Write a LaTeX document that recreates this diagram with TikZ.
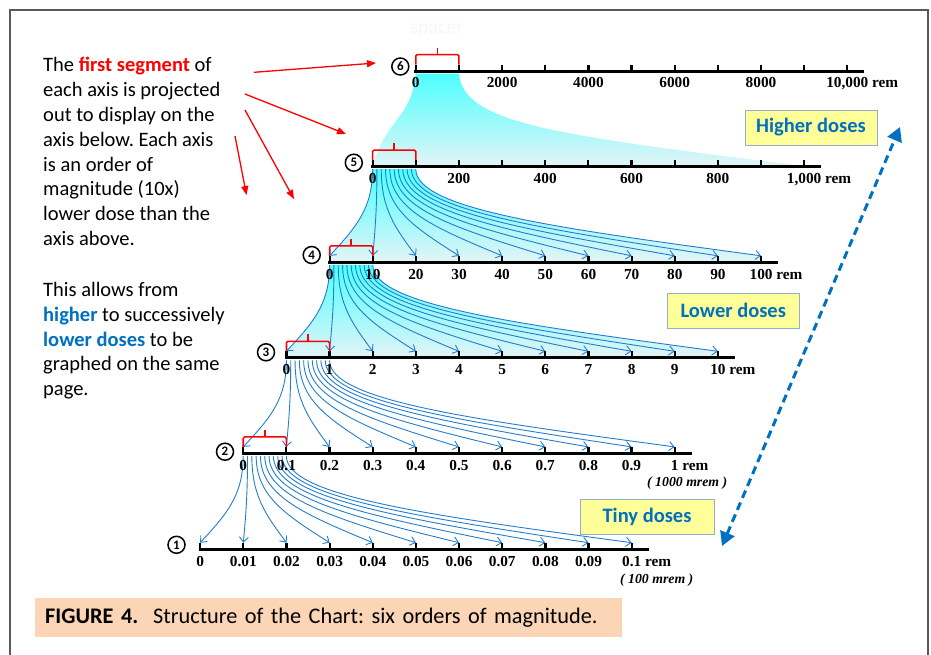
\documentclass[tikz,border=0pt]{standalone}
\usepackage{fontspec}
\setmainfont{Carlito}
\newfontfamily\timesfont{Liberation Serif}
\usetikzlibrary{positioning,arrows.meta,calc}
\definecolor{dblue}{RGB}{0,112,192}
\definecolor{projblue}{RGB}{35,125,205}
\definecolor{boxyellow}{RGB}{255,255,153}
\definecolor{boxedge}{RGB}{150,175,200}
\definecolor{peach}{RGB}{251,213,181}
\definecolor{paleteal}{RGB}{228,244,246}
\frenchspacing

\begin{document}
\begin{tikzpicture}[
    x=1pt, y=-1pt,
    axisline/.style={line width=3pt},
    tickmark/.style={line width=2.2pt},
    ticklabel/.style={inner sep=0pt, font=\timesfont\bfseries\fontsize{15.3}{15.3}\selectfont},
    unitnote/.style={inner sep=0pt, font=\timesfont\bfseries\itshape\fontsize{13.8}{13.8}\selectfont},
    axisnum/.style={draw, circle, line width=1.5pt, inner sep=0pt, minimum size=17pt, font=\bfseries\fontsize{13}{13}\selectfont},
    segbracket/.style={red, line width=1.5pt},
    proj/.style={projblue, line width=0.9pt, -{Straight Barb[length=5pt,width=9pt]}},
    projfill/.style={top color=cyan!70, bottom color=paleteal},
    dosebox/.style={draw=boxedge, fill=boxyellow, text=dblue, font=\bfseries\fontsize{20.5}{20.5}\selectfont, minimum width=132pt, minimum height=35pt},
    pointer/.style={red, line width=1.3pt, -{Triangle[length=9pt,width=7pt]}},
    rangearrow/.style={dblue, line width=3pt, dash pattern=on 8pt off 5pt, {Triangle[length=14pt,width=15pt]}-{Triangle[length=14pt,width=15pt]}},
    textblock/.style={align=left, inner sep=0pt, font=\fontsize{20.5}{24.85}\selectfont},
]
\useasboundingbox (0,0) rectangle (931,654);
% frame
\draw[black!65, line width=1.5pt] (10,660) |- (928,10) -- (928,660);

% axis points
\foreach \ax/\xo/\yo in {6/415.8/71, 5/372.6/166.5, 4/329.6/262.3, 3/286.4/357.8, 2/243.2/453.4, 1/200.2/549.2} {
  \foreach \k in {0,...,10} {
    \coordinate (a\ax-\k) at (\xo+\k*43.15, \yo-6.5);
    \coordinate (a\ax-s\k) at (\xo+\k*4.315, \yo+2.5);
  }
  \coordinate (a\ax-beg) at (\xo-1.5, \yo);
  \coordinate (a\ax-end) at (\xo+448.5, \yo);
}

\node[text=black!3, font=\fontsize{20}{20}\selectfont] (spacer) at (437,30) {spacer};

% projected segments
\path[projfill] (a6-s0) .. controls ($(a6-s0)+(-4,45)$) and ($(a5-0)+(12,-40)$) .. ($(a5-0)+(0,7)$)
    -- ($(a5-10)+(0,6)$) .. controls ($(a5-10)+(-250,-25)$) and ($(a6-s10)+(4,50)$) .. (a6-s10) -- cycle;
\foreach \up/\lo in {5/4,4/3} {
  \path[projfill] let \p1=(a\up-s0), \p2=(a\lo-0), \p3=(a\lo-10), \p4=(a\up-s10) in
    (\p1) .. controls (\x1,\y1-40pt) and ({\x2-0.6*(\x2-\x1)},\y2+28pt) .. (\p2)
    -- (\x2,\y2-6pt) -- (\x3,\y3-6pt) -- (\p3)
    .. controls ({\x3-0.6*(\x3-\x4)},\y3+28pt) and (\x4,\y4-40pt) .. (\p4) -- cycle;
}
\foreach \up/\lo in {5/4,4/3,3/2,2/1} {
  \foreach \k in {0,...,10} {
    \draw[proj] let \p1=(a\up-s\k), \p2=(a\lo-\k) in
      (\p1) .. controls (\x1,\y1-40pt) and ({\x2-0.6*(\x2-\x1)},\y2+28pt) .. (\p2);
  }
}

% axes
\foreach \ax in {1,...,6} {
  \draw[axisline] (a\ax-beg) -- (a\ax-end);
  \foreach \k in {0,...,10}
    \draw[tickmark] ($(a\ax-\k)+(0,7.5)$) -- (a\ax-\k);
}
\foreach \ax in {2,...,6} {
  \draw[segbracket, rounded corners=1.5pt] (a\ax-0) -- ++(0,-10) -| (a\ax-1);
  \draw[segbracket] ($(a\ax-0)!0.5!(a\ax-1)+(0,-10)$) -- ++(0,-7);
}
\foreach \ax/\cx/\cy in {6/400.3/66.5, 5/353.8/162.7, 4/311.7/255, 3/266/352.3, 2/225/451.7, 1/176.5/544.8}
  \node[axisnum] (num\ax) at (\cx,\cy) {\ax};

% tick labels
\foreach \k/\t in {0/0,2/2000,4/4000,6/6000,8/8000,10/{10,000\rlap{~rem}}}
  \node[ticklabel, below=13pt of a6-\k] (l6-\k) {\t};
\foreach \k/\t in {0/0,2/200,4/400,6/600,8/800,10/{1,000\rlap{~rem}}}
  \node[ticklabel, below=13pt of a5-\k] (l5-\k) {\t};
\foreach \k/\t in {0/0,1/10,2/20,3/30,4/40,5/50,6/60,7/70,8/80,9/90,10/{100\rlap{~rem}}}
  \node[ticklabel, below=13pt of a4-\k] (l4-\k) {\t};
\foreach \k/\t in {0/0,1/1,2/2,3/3,4/4,5/5,6/6,7/7,8/8,9/9,10/{10\rlap{~rem}}}
  \node[ticklabel, below=13pt of a3-\k] (l3-\k) {\t};
\foreach \k/\t in {0/0,1/0.1,2/0.2,3/0.3,4/0.4,5/0.5,6/0.6,7/0.7,8/0.8,9/0.9,10/{1\rlap{~rem}}}
  \node[ticklabel, below=13pt of a2-\k] (l2-\k) {\t};
\foreach \k/\t in {0/0,1/0.01,2/0.02,3/0.03,4/0.04,5/0.05,6/0.06,7/0.07,8/0.08,9/0.09,10/{0.1\rlap{~rem}}}
  \node[ticklabel, below=13pt of a1-\k] (l1-\k) {\t};
\node[unitnote, below=6pt of l2-10, xshift=12.5pt] (mrem2) {( 1000 mrem )};
\node[unitnote, below=7.5pt of l1-10, xshift=25pt] (mrem1) {( 100 mrem )};

% dose boxes
\node[dosebox] (higher) at (811,127.5) {Higher doses};
\node[dosebox] (lower) at (733.3,310.8) {Lower doses};
\node[dosebox, minimum width=134pt] (tiny) at (647,517) {Tiny doses};
\coordinate (range-top) at (900,127);
\coordinate (range-bot) at (722,546);
\draw[rangearrow] (range-bot) -- (range-top);

% text
\node[textblock, anchor=north west] (explain) at (43,57) {The \textcolor{red}{\bfseries first segment} of\\
  each axis is projected\\ out to display on the\\ axis below. Each axis\\ is an order of\\
  magnitude (10x)\\ lower dose than the\\ axis above.};
\node[textblock, anchor=north west] (allows) at (43,282) {This allows from\\
  \textcolor{dblue}{\bfseries higher} to successively\\ \textcolor{dblue}{\bfseries lower doses} to be\\
  graphed on the same\\ page.};
\coordinate (p1) at (254,72.3);
\coordinate (p2) at (245,94);
\coordinate (p3) at (245,110);
\coordinate (p4) at (235,136);
\draw[pointer] (p1) -- (376,63);
\draw[pointer] (p2) -- (346,134);
\draw[pointer] (p3) -- (294,199);
\draw[pointer] (p4) -- (246.5,195);

\node[fill=peach, anchor=west, text width=567pt, inner xsep=10pt, minimum height=39pt, align=left,
      font=\fontsize{22.3}{22.3}\selectfont] (caption) at (35,617.5)
  {\textbf{FIGURE 4.}\ \ Structure of the Chart: six orders of magnitude.};
\end{tikzpicture}
\end{document}
